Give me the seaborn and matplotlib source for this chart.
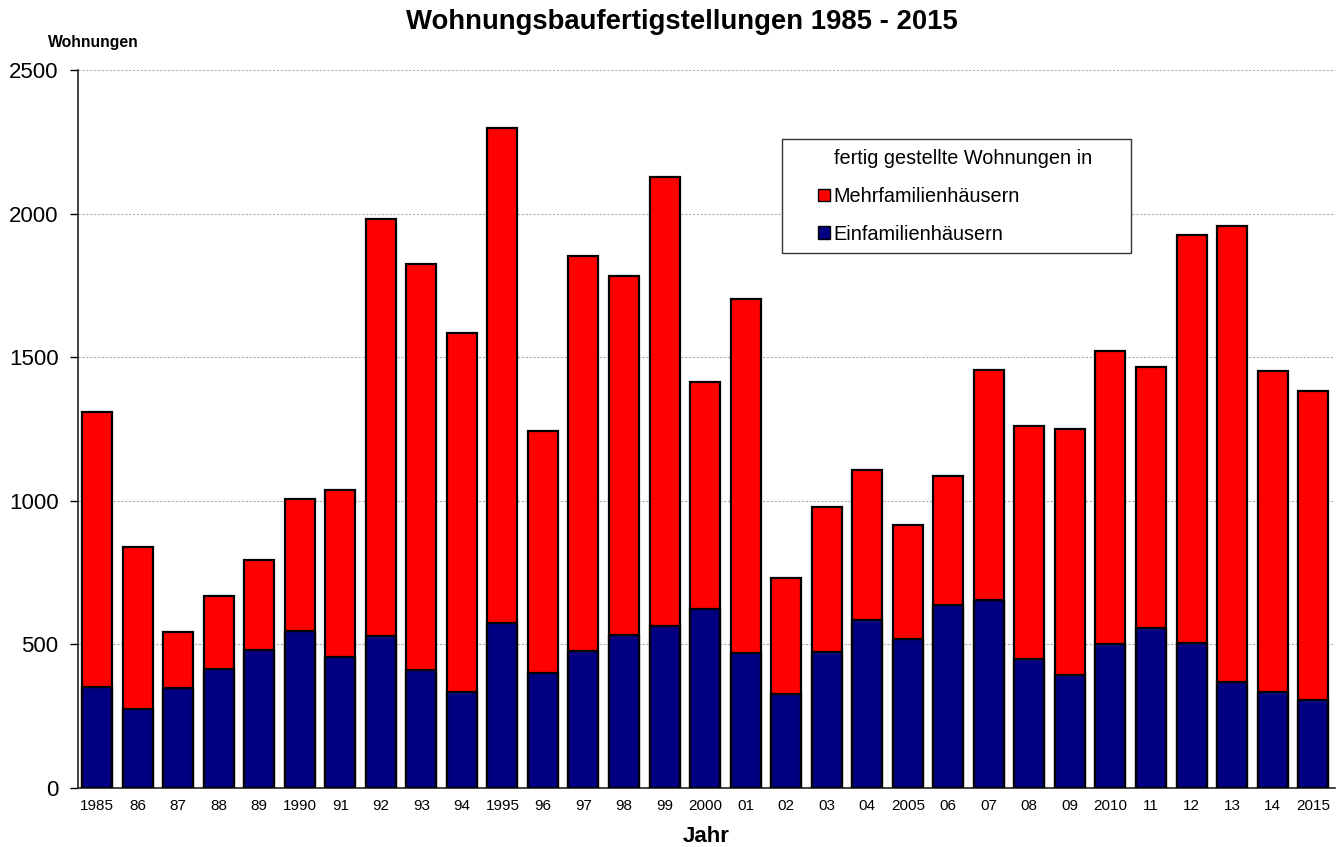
import numpy as np
import pandas as pd
import matplotlib
matplotlib.use("Agg")
import matplotlib.pyplot as plt
import seaborn as sns
from matplotlib.patches import Patch, Rectangle

sns.set_style("white")
plt.rcParams['font.family'] = ['Liberation Sans', 'DejaVu Sans']
plt.rcParams['text.color'] = 'black'
plt.rcParams['xtick.color'] = 'black'
plt.rcParams['ytick.color'] = 'black'
plt.rcParams['axes.labelcolor'] = 'black'

# data
jahre = ["1985", "86", "87", "88", "89", "1990", "91", "92", "93", "94",
         "1995", "96", "97", "98", "99", "2000", "01", "02", "03", "04",
         "2005", "06", "07", "08", "09", "2010", "11", "12", "13", "14", "2015"]
einfamilien = [350, 275, 348, 415, 482, 545, 455, 528, 410, 335,
               575, 400, 478, 533, 563, 625, 470, 328, 475, 585,
               520, 636, 655, 448, 395, 500, 558, 505, 370, 335, 308]
mehrfamilien = [960, 565, 195, 253, 312, 460, 583, 1452, 1415, 1248,
                1723, 843, 1374, 1249, 1564, 788, 1233, 403, 503, 522,
                395, 450, 800, 812, 855, 1021, 908, 1420, 1587, 1117, 1073]

df = pd.DataFrame({"Jahr": jahre, "Ein": einfamilien, "Mehr": mehrfamilien})
df["Gesamt"] = df["Ein"] + df["Mehr"]

rot = "#FF0000"
blau = "#000080"

fig = plt.figure(figsize=(13.43, 8.47), dpi=100)
ax = fig.add_axes([78 / 1343, 59 / 847, 1257 / 1343, 718 / 847])

# stacked: total in red, single family houses drawn over it in blue
sns.barplot(data=df, x="Jahr", y="Gesamt", color=rot, saturation=1, width=0.74,
            edgecolor="black", linewidth=1.6, ax=ax, zorder=3)
sns.barplot(data=df, x="Jahr", y="Ein", color=blau, saturation=1, width=0.74,
            edgecolor="black", linewidth=1.6, ax=ax, zorder=4)

ax.set_xlim(-0.47, 30.54)
ax.set_ylim(0, 2500)
ax.set_yticks([0, 500, 1000, 1500, 2000, 2500])
ax.yaxis.grid(True, linestyle=(0, (2, 1.5)), color="#aaaaaa", linewidth=0.8, zorder=0)
ax.set_axisbelow(True)

for s in ["top", "right"]:
    ax.spines[s].set_visible(False)
for s in ["left", "bottom"]:
    ax.spines[s].set_color("#222222")
    ax.spines[s].set_linewidth(1.2)

ax.tick_params(axis="y", labelsize=16, length=6, width=1, direction="out", left=True, pad=8)
ax.tick_params(axis="x", labelsize=11, length=0, pad=8)

ax.set_xlabel("Jahr", fontsize=16, fontweight="bold", labelpad=9)
ax.set_ylabel("")
fig.text(48 / 1343, 1 - 42 / 847, "Wohnungen", fontsize=11.3, fontweight="bold",
         ha="left", va="center")
fig.suptitle("Wohnungsbaufertigstellungen 1985 - 2015", fontsize=19.8,
             fontweight="bold", x=0.508, y=1 - 22 / 847, va="center")

# legend frame drawn separately, entries placed inside it
fig.patches.append(Rectangle((782 / 1343, 1 - 253 / 847), 349 / 1343, 114 / 847,
                             transform=fig.transFigure, facecolor="white",
                             edgecolor="#333333", linewidth=1.0, zorder=5))
handles = [Patch(facecolor=rot, edgecolor="black", label="Mehrfamilienhäusern"),
           Patch(facecolor=blau, edgecolor="black", label="Einfamilienhäusern")]
leg = fig.legend(handles=handles, title="fertig gestellte Wohnungen in",
                 loc="upper left", bbox_to_anchor=(818 / 1343, 1 - 149 / 847),
                 fontsize=14.3, title_fontsize=14.3, frameon=False,
                 handlelength=0.6, handleheight=0.6, handletextpad=0.15,
                 borderpad=0, labelspacing=0.95, borderaxespad=0)
leg.set_zorder(6)
leg._legend_box.align = "left"
leg.get_title().set_position((16, 0))

fig.savefig("out.png", dpi=100)
